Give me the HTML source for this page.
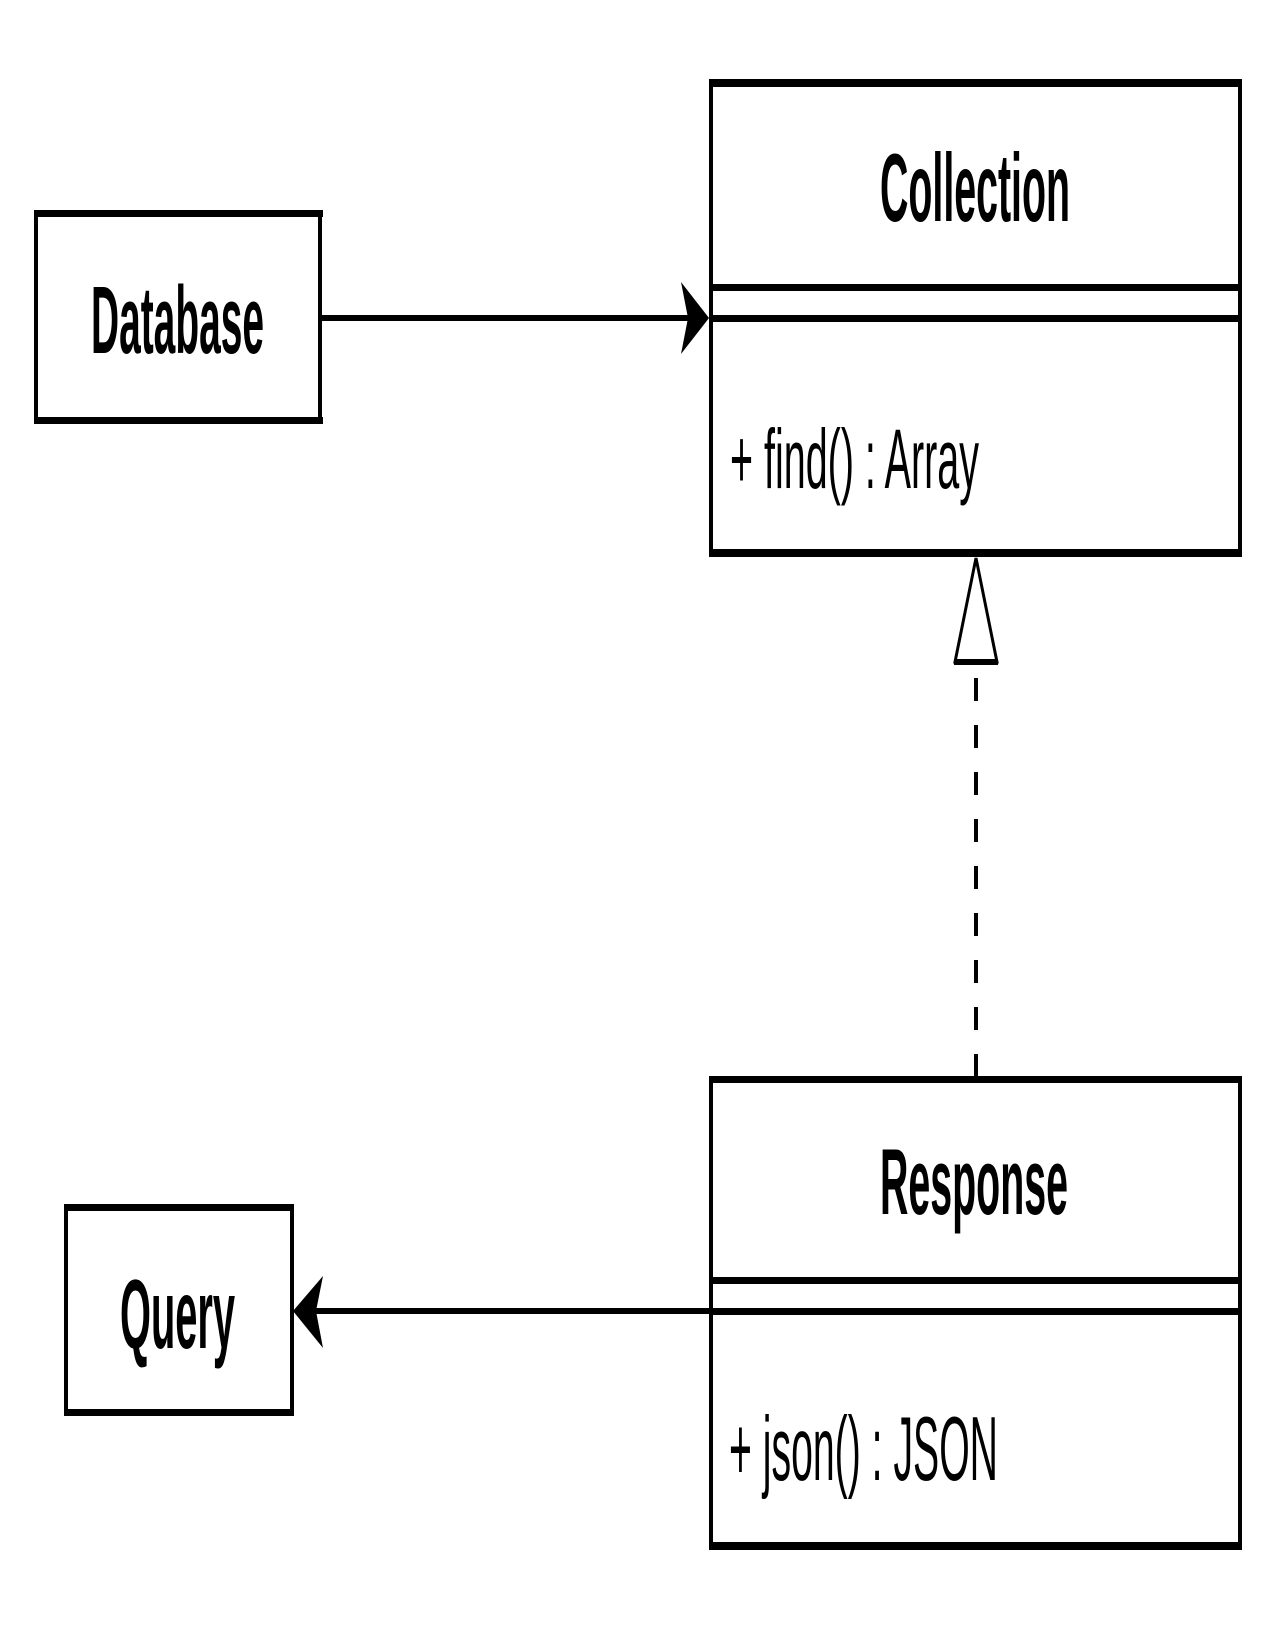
<!DOCTYPE html>
<html><head><meta charset="utf-8"><style>
html,body{margin:0;padding:0;background:#fff;width:1275px;height:1650px;overflow:hidden}
text{font-family:"Liberation Sans",Arial,sans-serif;fill:#000}
</style></head><body>
<svg width="1275" height="1650" viewBox="0 0 1275 1650" xmlns="http://www.w3.org/2000/svg">
<g fill="#000">
<rect x="34" y="210" width="289" height="7"/>
<rect x="34" y="417" width="289" height="7"/>
<rect x="34" y="210" width="4" height="214"/>
<rect x="318" y="210" width="4" height="214"/>
<rect x="64" y="1204" width="230" height="7"/>
<rect x="64" y="1409" width="230" height="7"/>
<rect x="64" y="1204" width="4" height="212"/>
<rect x="290" y="1204" width="4" height="212"/>
<rect x="710" y="79" width="532" height="8"/>
<rect x="710" y="284" width="532" height="7"/>
<rect x="710" y="315" width="532" height="7"/>
<rect x="710" y="549" width="532" height="8"/>
<rect x="709" y="79" width="4" height="478"/>
<rect x="1238" y="79" width="4" height="478"/>
<rect x="710" y="1076" width="532" height="7"/>
<rect x="710" y="1277" width="532" height="7"/>
<rect x="710" y="1308" width="532" height="7"/>
<rect x="710" y="1542" width="532" height="8"/>
<rect x="709" y="1076" width="4" height="474"/>
<rect x="1238" y="1076" width="4" height="474"/>
<rect x="321" y="315" width="370" height="6"/>
<polygon points="709,318 681,282 688,318 681,354"/>
<rect x="314" y="1308" width="400" height="6"/>
<polygon points="293,1311 323,1276 316,1311 323,1348"/>
</g>
<polygon points="976,558 955,662 997,662" fill="#fff" stroke="#000" stroke-width="3"/>
<rect x="954" y="659" width="44" height="6" fill="#000"/>
<line x1="976" y1="678" x2="976" y2="1078" stroke="#000" stroke-width="4" stroke-dasharray="23 24"/>
<text font-weight="bold" font-size="40" textLength="190" lengthAdjust="spacingAndGlyphs" transform="translate(880,221) scale(1,2.41)">Collection</text>
<text font-size="40" textLength="249" lengthAdjust="spacingAndGlyphs" transform="translate(730,488) scale(1,2.1)">+ find() : Array</text>
<text font-weight="bold" font-size="40" textLength="173" lengthAdjust="spacingAndGlyphs" transform="translate(91,353) scale(1,2.38)">Database</text>
<text font-weight="bold" font-size="40" textLength="188" lengthAdjust="spacingAndGlyphs" transform="translate(880,1214) scale(1,2.34)">Response</text>
<text font-size="40" textLength="269" lengthAdjust="spacingAndGlyphs" transform="translate(729,1480) scale(1,2.27)">+ json() : JSON</text>
<text font-weight="bold" font-size="40" textLength="115" lengthAdjust="spacingAndGlyphs" transform="translate(120,1348) scale(1,2.45)">Query</text>
</svg>
</body></html>
